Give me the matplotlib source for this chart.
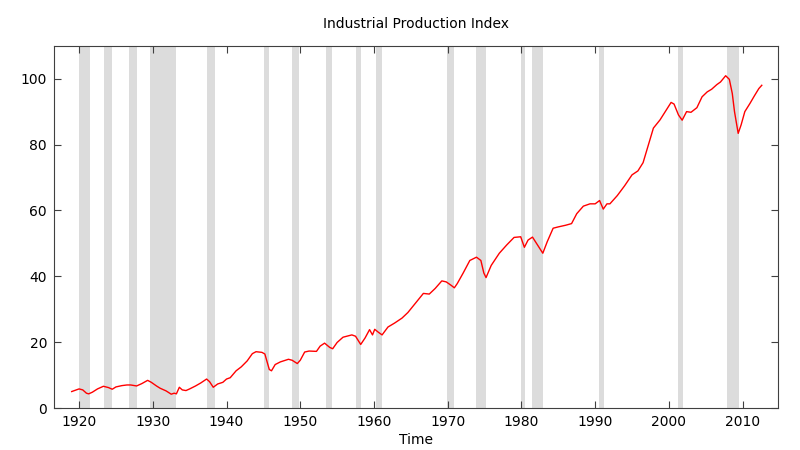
import matplotlib

matplotlib.use("Agg")
import matplotlib.pyplot as plt

# Industrial production index (decimal year, index)
years = [
    1919.0, 1919.5, 1920.0, 1920.5, 1921.0, 1921.3, 1921.8, 1922.5, 1923.3, 1924.0,
    1924.5, 1925.0, 1925.8, 1926.5, 1927.0, 1927.8, 1928.5, 1929.3, 1929.8, 1930.5,
    1931.0, 1931.8, 1932.5, 1932.9, 1933.2, 1933.6, 1934.0, 1934.5, 1935.0, 1935.8,
    1936.5, 1937.3, 1937.7, 1938.2, 1938.8, 1939.5, 1940.0, 1940.5, 1941.3, 1942.0,
    1942.8, 1943.5, 1944.0, 1944.8, 1945.2, 1945.5, 1945.8, 1946.1, 1946.6, 1947.3,
    1948.4, 1948.9, 1949.6, 1950.0, 1950.6, 1951.2, 1952.2, 1952.7, 1953.3, 1954.0,
    1954.4, 1955.0, 1955.8, 1957.0, 1957.5, 1958.2, 1958.8, 1959.4, 1959.8, 1960.1,
    1960.6, 1961.1, 1961.9, 1962.8, 1963.8, 1964.6, 1965.5, 1966.7, 1967.5, 1968.3,
    1969.2, 1969.8, 1970.5, 1970.9, 1971.3, 1972.1, 1973.0, 1973.9, 1974.5, 1974.9,
    1975.2, 1975.9, 1977.0, 1978.0, 1979.0, 1979.9, 1980.4, 1980.9, 1981.5, 1982.1,
    1982.9, 1983.5, 1984.3, 1985.0, 1986.0, 1986.8, 1987.5, 1988.4, 1989.3, 1990.0,
    1990.6, 1991.1, 1991.6, 1992.0, 1993.0, 1994.0, 1995.0, 1995.8, 1996.5, 1997.3,
    1997.9, 1998.8, 1999.5, 2000.3, 2000.7, 2001.3, 2001.8, 2002.4, 2003.0, 2003.8,
    2004.5, 2005.2, 2005.8, 2006.5, 2007.0, 2007.7, 2008.2, 2008.6, 2008.9, 2009.4,
    2009.8, 2010.3, 2011.0, 2011.6, 2012.2, 2012.6,
]
index = [
    5.0, 5.4, 5.8, 5.5, 4.5, 4.3, 4.8, 5.8, 6.6, 6.2,
    5.7, 6.4, 6.8, 7.0, 7.0, 6.7, 7.4, 8.4, 7.8, 6.7,
    6.0, 5.2, 4.2, 4.5, 4.3, 6.3, 5.5, 5.3, 5.8, 6.7,
    7.6, 8.8, 8.0, 6.3, 7.3, 7.8, 8.8, 9.2, 11.3, 12.5,
    14.3, 16.5, 17.1, 16.9, 16.4, 14.0, 11.7, 11.3, 13.2, 14.0,
    14.8, 14.5, 13.5, 14.5, 17.0, 17.3, 17.2, 18.8, 19.7, 18.4,
    18.0, 19.9, 21.5, 22.2, 21.8, 19.3, 21.3, 23.8, 22.2, 23.9,
    23.0, 22.2, 24.6, 25.8, 27.3, 29.0, 31.5, 34.8, 34.6, 36.3,
    38.6, 38.3, 37.2, 36.5, 37.8, 41.0, 44.8, 45.8, 44.8, 41.0,
    39.6, 43.3, 47.0, 49.5, 51.8, 52.0, 48.8, 51.0, 51.9, 49.8,
    47.0, 50.5, 54.6, 55.0, 55.5, 56.0, 59.0, 61.3, 62.0, 62.0,
    63.0, 60.4, 62.0, 62.0, 64.5, 67.5, 70.8, 72.0, 74.5, 80.5,
    85.0, 87.5, 90.0, 92.8, 92.3, 89.0, 87.4, 90.0, 89.8, 91.2,
    94.5, 96.0, 96.8, 98.2, 99.0, 100.9, 99.8, 95.5, 90.0, 83.4,
    86.0, 90.0, 92.5, 94.8, 97.0, 98.0,
]

# NBER recession periods (start, end) as decimal years
rec_start = [1920.0, 1923.37, 1926.79, 1929.62, 1937.37, 1945.08, 1948.87, 1953.5,
             1957.62, 1960.29, 1969.96, 1973.87, 1980.0, 1981.5, 1990.5, 2001.17, 2007.92]
rec_end = [1921.5, 1924.5, 1927.87, 1933.2, 1938.45, 1945.79, 1949.79, 1954.37,
           1958.29, 1961.12, 1970.87, 1975.2, 1980.5, 1982.87, 1991.2, 2001.87, 2009.45]

xticks = [1920, 1930, 1940, 1950, 1960, 1970, 1980, 1990, 2000, 2010]
yticks = [0, 20, 40, 60, 80, 100]

fig = plt.figure(figsize=(8, 4.5), dpi=100)
ax = fig.add_axes([0.0675, 0.0933, 0.905, 0.805])

for s, e in zip(rec_start, rec_end):
    ax.axvspan(s, e, color="#dcdcdc", lw=0, zorder=1)

ax.plot(years, index, color="#ff0000", lw=1.0, zorder=3)

ax.set_xlim(1916.6, 2014.8)
ax.set_ylim(0, 110)
ax.set_xticks(xticks)
ax.set_yticks(yticks)
ax.tick_params(direction="in", length=5, top=True, right=True, labelsize=10,
               color="#404040", pad=5)
for sp in ax.spines.values():
    sp.set_color("#404040")

ax.set_title("Industrial Production Index", fontsize=10, pad=13)
ax.set_xlabel("Time", fontsize=10, labelpad=3)

fig.savefig("out.png", dpi=100)
